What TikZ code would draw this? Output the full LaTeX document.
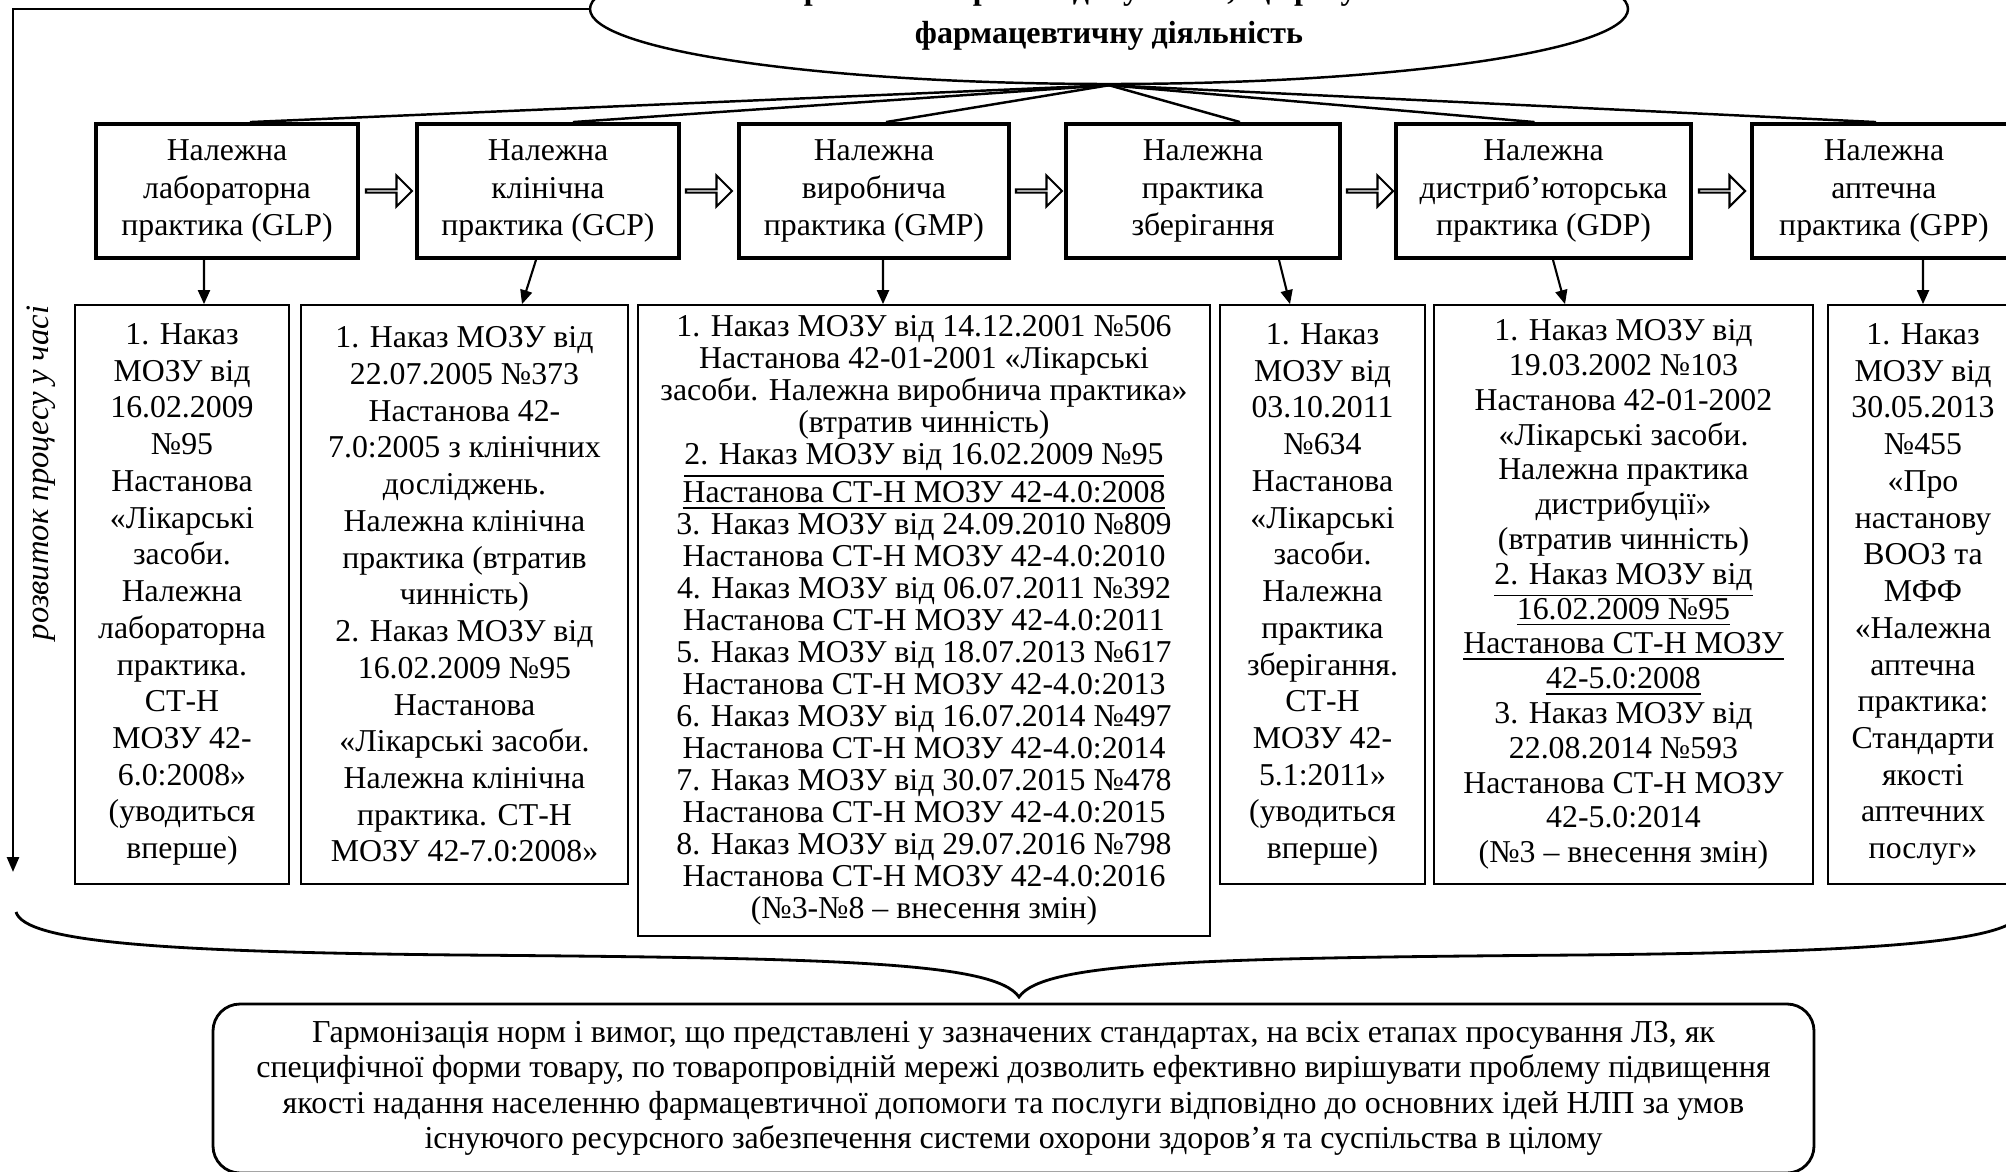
\documentclass[tikz,border=0pt]{standalone}
\usepackage{fontspec}
\setmainfont{Liberation Serif}
\usetikzlibrary{positioning, arrows.meta, shapes.geometric, shapes.arrows}

\begin{document}
\begin{tikzpicture}[
    stage/.style={draw, line width=1.1pt, align=center, minimum height=1.34cm, inner sep=0pt, font=\fontsize{9.05}{10.8}\selectfont},
    doc/.style={draw, line width=0.5pt, align=center, minimum height=5.79cm, inner sep=0pt, font=\fontsize{9.05}{10.45}\selectfont},
    link/.style={line width=0.7pt},
    down/.style={line width=0.6pt, -{Triangle[width=0.12cm, length=0.14cm]}},
    stagearrow/.style={single arrow, draw, line width=0.6pt, minimum height=0.46cm, minimum width=0.31cm, single arrow head extend=0.09cm, inner sep=0pt},
    lawfont/.style={font=\bfseries\fontsize{9.1}{10.8}\selectfont, anchor=base}
]
\useasboundingbox (0,0) rectangle (20.06,-11.72);

% --- Ellipse with the regulation (top line runs off the page) ---
\node[ellipse, draw, line width=0.7pt, minimum width=10.38cm, minimum height=1.50cm] (law) at (11.09,-0.09) {};
\node[lawfont] (lawtop) at (11.09,0.005) {Нормативно-правові документи, що регулюють};
\node[lawfont] (lawtext) at (11.09,-0.435) {фармацевтичну діяльність};

% --- Practices (top row) ---
\node[stage, minimum width=2.62cm] (glp) at (2.27,-1.91) {Належна\\лабораторна\\практика (GLP)};
\node[stage, minimum width=2.62cm] (gcp) at (5.48,-1.91) {Належна\\клінічна\\практика (GCP)};
\node[stage, minimum width=2.70cm] (gmp) at (8.74,-1.91) {Належна\\виробнича\\практика (GMP)};
\node[stage, minimum width=2.74cm] (gsp) at (12.03,-1.91) {Належна\\практика\\зберігання};
\node[stage, minimum width=2.95cm] (gdp) at (15.435,-1.91) {Належна\\дистриб’юторська\\практика (GDP)};
\node[stage, minimum width=2.64cm] (gpp) at (18.84,-1.91) {Належна\\аптечна\\практика (GPP)};

% hollow arrows between practices
\node[stagearrow, right=0.05cm of glp] (a1) {};
\node[stagearrow, right=0.04cm of gcp] (a2) {};
\node[stagearrow, right=0.04cm of gmp] (a3) {};
\node[stagearrow, right=0.04cm of gsp] (a4) {};
\node[stagearrow, right=0.05cm of gdp] (a5) {};

% lines from the ellipse
\draw[link] (law.south) -- ([xshift=0.23cm]glp.north);
\draw[link] (law.south) -- ([xshift=0.25cm]gcp.north);
\draw[link] (law.south) -- ([xshift=0.12cm]gmp.north);
\draw[link] (law.south) -- ([xshift=0.37cm]gsp.north);
\draw[link] (law.south) -- ([xshift=-0.09cm]gdp.north);
\draw[link] (law.south) -- ([xshift=-0.08cm]gpp.north);

% --- Documents (bottom row) ---
\node[doc, minimum width=2.14cm] (glpdoc) at (1.82,-5.945) {1. Наказ\\МОЗУ від\\16.02.2009\\№95\\Настанова\\«Лікарські\\засоби.\\Належна\\лабораторна\\практика.\\СТ-Н\\МОЗУ 42-\\6.0:2008»\\(уводиться\\вперше)};
\node[doc, minimum width=3.27cm] (gcpdoc) at (4.645,-5.945) {1. Наказ МОЗУ від\\22.07.2005 №373\\Настанова 42-\\7.0:2005 з клінічних\\досліджень.\\Належна клінічна\\практика (втратив\\чинність)\\2. Наказ МОЗУ від\\16.02.2009 №95\\Настанова\\«Лікарські засоби.\\Належна клінічна\\практика. СТ-Н\\МОЗУ 42-7.0:2008»};
\node[doc, minimum width=5.72cm, minimum height=6.31cm, font=\fontsize{9.05}{9.1}\selectfont] (gmpdoc) at (9.24,-6.205) {1. Наказ МОЗУ від 14.12.2001 №506\\Настанова 42-01-2001 «Лікарські\\засоби. Належна виробнича практика»\\(втратив чинність)\\\underline{2. Наказ МОЗУ від 16.02.2009 №95}\\\underline{Настанова СТ-Н МОЗУ 42-4.0:2008}\\3. Наказ МОЗУ від 24.09.2010 №809\\Настанова СТ-Н МОЗУ 42-4.0:2010\\4. Наказ МОЗУ від 06.07.2011 №392\\Настанова СТ-Н МОЗУ 42-4.0:2011\\5. Наказ МОЗУ від 18.07.2013 №617\\Настанова СТ-Н МОЗУ 42-4.0:2013\\6. Наказ МОЗУ від 16.07.2014 №497\\Настанова СТ-Н МОЗУ 42-4.0:2014\\7. Наказ МОЗУ від 30.07.2015 №478\\Настанова СТ-Н МОЗУ 42-4.0:2015\\8. Наказ МОЗУ від 29.07.2016 №798\\Настанова СТ-Н МОЗУ 42-4.0:2016\\(№3-№8 – внесення змін)};
\node[doc, minimum width=2.05cm] (gspdoc) at (13.225,-5.945) {1. Наказ\\МОЗУ від\\03.10.2011\\№634\\Настанова\\«Лікарські\\засоби.\\Належна\\практика\\зберігання.\\СТ-Н\\МОЗУ 42-\\5.1:2011»\\(уводиться\\вперше)};
\node[doc, minimum width=3.79cm, font=\fontsize{9.05}{9.9}\selectfont] (gdpdoc) at (16.235,-5.945) {1. Наказ МОЗУ від\\19.03.2002 №103\\Настанова 42-01-2002\\«Лікарські засоби.\\Належна практика\\дистрибуції»\\(втратив чинність)\\\underline{2. Наказ МОЗУ від}\\\underline{16.02.2009 №95}\\\underline{Настанова СТ-Н МОЗУ}\\\underline{42-5.0:2008}\\3. Наказ МОЗУ від\\22.08.2014 №593\\Настанова СТ-Н МОЗУ\\42-5.0:2014\\(№3 – внесення змін)};
\node[doc, minimum width=1.90cm] (gppdoc) at (19.23,-5.945) {1. Наказ\\МОЗУ від\\30.05.2013\\№455\\«Про\\настанову\\ВООЗ та\\МФФ\\«Належна\\аптечна\\практика:\\Стандарти\\якості\\аптечних\\послуг»};

% arrows practice -> documents
\draw[down] ([xshift=-0.23cm]glp.south) -- ([xshift=0.22cm]glpdoc.north);
\draw[down] ([xshift=-0.12cm]gcp.south) -- ([xshift=0.575cm]gcpdoc.north);
\draw[down] ([xshift=0.09cm]gmp.south) -- ([xshift=-0.41cm]gmpdoc.north);
\draw[down] ([xshift=0.76cm]gsp.south) -- ([xshift=-0.325cm]gspdoc.north);
\draw[down] ([xshift=0.095cm]gdp.south) -- ([xshift=-0.585cm]gdpdoc.north);
\draw[down] ([xshift=0.39cm]gpp.south) -- (gppdoc.north);

% --- Time axis ---
\coordinate (tend) at (0.13,-8.72);
\draw[line width=0.75pt, -{Triangle[width=0.12cm, length=0.15cm]}] (law.west) -| (tend);
\node[rotate=90, font=\itshape\fontsize{9.3}{10}\selectfont] (axislabel) at (0.41,-4.73) {розвиток процесу у часі};

% --- Brace and summary ---
\coordinate (bl) at (0.16,-9.12);
\coordinate (br) at (20.22,-9.12);
\coordinate (btip) at (10.19,-9.97);
\draw[line width=0.8pt] (bl) .. controls (0.25,-9.42) and (1.6,-9.52) .. (4.6,-9.55)
    .. controls (8.4,-9.58) and (9.95,-9.62) .. (btip)
    .. controls (10.43,-9.62) and (11.98,-9.58) .. (15.78,-9.55)
    .. controls (18.78,-9.52) and (20.13,-9.42) .. (br);

\node[draw, rounded corners=0.27cm, line width=0.8pt, minimum width=16.01cm, minimum height=1.69cm, align=center, font=\fontsize{9.1}{10.1}\selectfont] (summary) at (10.135,-10.885)
    {Гармонізація норм і вимог, що представлені у зазначених стандартах, на всіх етапах просування ЛЗ, як\\
     специфічної форми товару, по товаропровідній мережі дозволить ефективно вирішувати проблему підвищення\\
     якості надання населенню фармацевтичної допомоги та послуги відповідно до основних ідей НЛП за умов\\
     існуючого ресурсного забезпечення системи охорони здоров’я та суспільства в цілому};

\end{tikzpicture}
\end{document}
